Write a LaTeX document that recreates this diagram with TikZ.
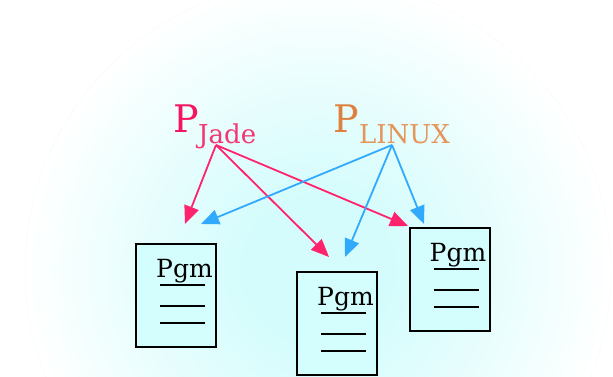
\documentclass[tikz,border=0pt]{standalone}
\usepackage{fontspec}
\setmainfont{DejaVu Serif}
\usetikzlibrary{arrows.meta}
\definecolor{jadepink}{RGB}{245,20,95}
\definecolor{jadesub}{RGB}{242,55,115}
\definecolor{linuxorange}{RGB}{222,128,62}
\definecolor{linuxsub}{RGB}{228,150,90}
\definecolor{arrowpink}{RGB}{255,35,110}
\definecolor{arrowblue}{RGB}{50,170,252}
\definecolor{pgmfill}{RGB}{212,254,254}
\definecolor{bgcyan}{RGB}{212,252,252}
\pgfdeclareradialshading{bgshade}{\pgfpoint{0bp}{0bp}}{%
  color(0bp)=(bgcyan); color(6bp)=(bgcyan); color(16bp)=(bgcyan!50!white);
  color(25bp)=(white); color(50bp)=(white)}
\tikzset{
  pgmbox/.style={draw=black, line width=2pt, fill=pgmfill, minimum width=80pt,
    minimum height=103pt, inner sep=0pt},
  pgmtext/.style={anchor=base west, inner sep=0pt, font=\fontsize{25}{25}\selectfont},
  biglabel/.style={anchor=base west, inner sep=0pt, font=\fontsize{38}{38}\selectfont},
  sublabel/.style={anchor=base west, inner sep=0pt, font=\fontsize{26}{26}\selectfont},
  link/.style={line width=1.8pt, -{Triangle[length=18pt,width=15pt]}},
}
\begin{document}
\begin{tikzpicture}[x=1pt,y=-1pt]
  \useasboundingbox (0,0) rectangle (613,377);

  % Fond
  \begin{scope}
    \clip (0,0) rectangle (613,377);
    \shade[shading=bgshade] (318,270) ellipse (293 and 290);
    \draw[black!7, densely dotted] (318,270) ellipse (293 and 290);
  \end{scope}

  % Etiquettes
  \node[biglabel, text=jadepink] (pjade) at (173,133) {P};
  \node[sublabel, text=jadesub] (jade) at (198,143) {Jade};
  \node[biglabel, text=linuxorange] (plinux) at (333,133) {P};
  \node[sublabel, text=linuxsub] (linux) at (359,143) {LINUX};
  \coordinate (jadesrc) at (216,145);
  \coordinate (linuxsrc) at (392,145);

  % Programmes
  \node[pgmbox] (pgmA) at (176,295.5) {};
  \node[pgmbox] (pgmB) at (337,323.5) {};
  \node[pgmbox] (pgmC) at (449.5,279.5) {};
  \foreach \b in {pgmA,pgmB,pgmC} {
    \node[pgmtext] (\b txt) at ([xshift=21pt,yshift=-34pt]\b.north west) {Pgm};
    \foreach \dy in {42,63,80}
      \draw[line width=1.6pt] ([xshift=25pt,yshift=-\dy pt]\b.north west) -- ++(45,0);
  }

  % Pointes des fleches
  \coordinate (tipJA) at (185,224);
  \coordinate (tipJB) at (329,257);
  \coordinate (tipJC) at (408,226);
  \coordinate (tipLA) at (201,224);
  \coordinate (tipLB) at (345,257);
  \coordinate (tipLC) at (424,224);

  % Fleches
  \draw[link, arrowpink] (jadesrc) -- (tipJA);
  \draw[link, arrowpink] (jadesrc) -- (tipJB);
  \draw[link, arrowpink] (jadesrc) -- (tipJC);
  \draw[link, arrowblue] (linuxsrc) -- (tipLA);
  \draw[link, arrowblue] (linuxsrc) -- (tipLB);
  \draw[link, arrowblue] (linuxsrc) -- (tipLC);
\end{tikzpicture}
\end{document}
